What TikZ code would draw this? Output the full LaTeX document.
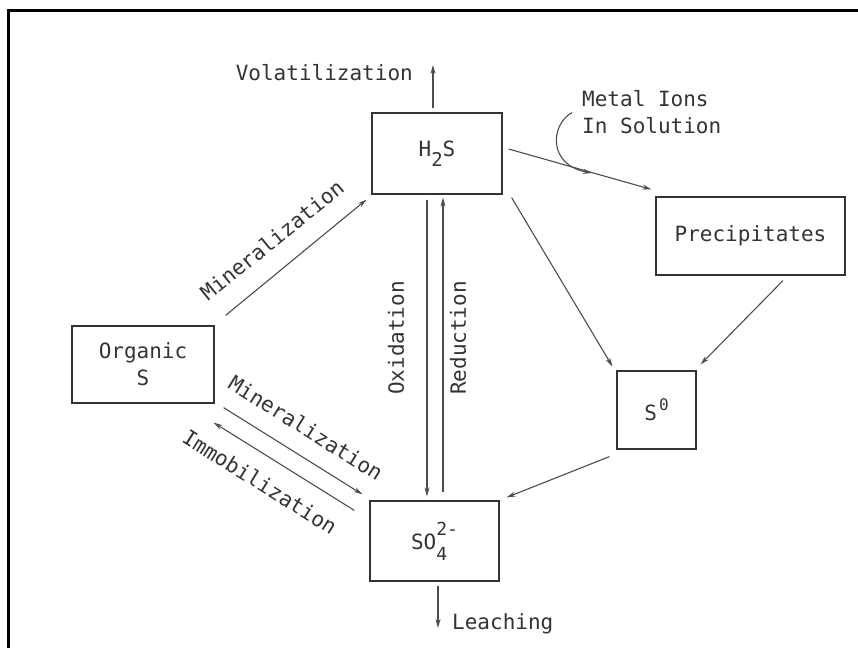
\documentclass[tikz,border=0pt]{standalone}
\usepackage{fontspec}
\setmonofont{DejaVu Sans Mono}
\usetikzlibrary{arrows.meta,calc}
\definecolor{inkc}{HTML}{333333}
\definecolor{arrc}{HTML}{4D4D4D}
\newcommand{\mysub}[1]{\raisebox{-10pt}{\fontsize{19}{19}\selectfont #1}}
\newcommand{\mysup}[1]{\kern2pt\raisebox{10pt}{\fontsize{16}{16}\selectfont #1}}
\newcommand{\mysubsup}[2]{\rlap{\raisebox{-11pt}{\fontsize{18}{18}\selectfont #1}}\raisebox{14pt}{\fontsize{18}{18}\selectfont #2}}
\begin{document}
\begin{tikzpicture}[x=1pt,y=-1pt,
  txt/.style={font=\ttfamily\fontsize{21}{27}\selectfont, text=inkc, inner sep=0pt},
  box/.style={draw=inkc, line width=1.2pt, txt, align=center},
  arr/.style={draw=arrc, line width=1.1pt, -{Stealth[length=9pt,width=5pt]}}
]
\useasboundingbox (0,0) rectangle (858,648);
\draw[line width=3pt, black, line join=miter] (8,648) -- (8,10) -- (858,10);

% boxes
\node[box, minimum width=142pt, minimum height=77pt] (org) at (143,364.5) {Organic\\S};
\node[box, minimum width=130pt, minimum height=81pt] (h2s) at (437,153.5) {H\mysub{2}S};
\node[box, minimum width=189pt, minimum height=78pt] (prec) at (750.5,236) {Precipitates};
\node[box, minimum width=79pt, minimum height=78pt] (s0) at (656.5,410) {S\mysup{0}};
\node[box, minimum width=129pt, minimum height=80pt] (so4) at (434.5,541) {SO\mysubsup{4}{2-}};

% free texts
\node[txt, anchor=base east] (vol) at (413,80) {Volatilization};
\node[txt, anchor=base west] (leach) at (452,629) {Leaching};
\node[txt, anchor=west, align=left] (metal) at (582,112.5) {Metal Ions\\In Solution};

% free ends
\coordinate (volend) at (433,65);
\coordinate (leachend) at (438,628);
\coordinate (mstart) at ($(metal.west)+(-10,0)$);
\coordinate (mend) at (592,173);

% connectors
\draw[arr] ($(h2s.north)+(-4,-4)$) -- (volend);
\draw[arr] ($(so4.south)+(3.5,4)$) -- (leachend);
\draw[arr] (mstart) .. controls (550,125) and (548,165) .. (mend);
\draw[arr] ($(org.north east)+(11,-10)$) -- ($(h2s.south west)+(-5,5)$);
\draw[arr] ($(org.south east)+(9,4)$) -- ($(so4.north west)+(-7,-6)$);
\draw[arr] ($(so4.north west)+(-15,10)$) -- ($(org.south east)+(-1,19)$);
\draw[arr] ($(h2s.south)+(-10,5)$) -- ($(so4.north)+(-7.5,-4)$);
\draw[arr] ($(so4.north)+(8.5,-8)$) -- ($(h2s.south)+(6,3)$);
\draw[arr] ($(h2s.east)+(6,-4.5)$) -- ($(prec.north west)+(-4,-7)$);
\draw[arr] ($(h2s.south east)+(9,3)$) -- ($(s0.north west)+(-4,-4)$);
\draw[arr] ($(prec.south)+(32.5,5)$) -- ($(s0.north east)+(4,-6)$);
\draw[arr] ($(s0.south west)+(-7,7)$) -- ($(so4.north east)+(7,-3)$);

% connector labels
\node[txt, rotate=39] (lmin1) at (272,240) {Mineralization};
\node[txt, rotate=-32] (lmin2) at (306,428) {Mineralization};
\node[txt, rotate=-32] (limm) at (260,482) {Immobilization};
\node[txt, rotate=90] (lox) at (396,338) {Oxidation};
\node[txt, rotate=90] (lred) at (458,338) {Reduction};
\end{tikzpicture}
\end{document}
